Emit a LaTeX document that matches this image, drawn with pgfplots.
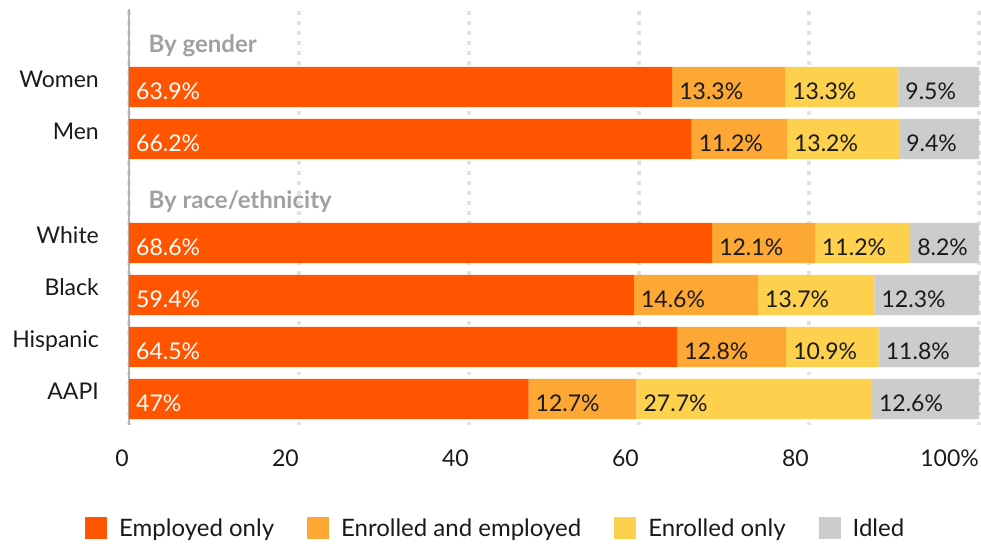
\documentclass[border=0pt]{standalone}
\usepackage{fontspec}
\setmainfont{Lato}
\usepackage{pgfplots}
\usepackage{pgfplotstable}
\pgfplotsset{compat=1.18}
\definecolor{cEmp}{HTML}{FF5500}
\definecolor{cEE}{HTML}{FDA834}
\definecolor{cEO}{HTML}{FDD04E}
\definecolor{cIdl}{HTML}{CCCCCC}
\definecolor{cHead}{HTML}{A0A0A0}
\definecolor{cGrid}{HTML}{E2E2E2}
\definecolor{cAxis}{HTML}{B4B4B4}
\definecolor{cText}{HTML}{1A1A1A}
\newcommand\fs{\fontsize{23bp}{27bp}\selectfont}
\newcommand\fh{\fontsize{24bp}{28bp}\selectfont}

\pgfplotstableread{
y emp ee eo idl
6 63.9 13.3 13.3 9.5
5 66.2 11.2 13.2 9.4
3 68.6 12.1 11.2 8.2
2 59.4 14.6 13.7 12.3
1 64.5 12.8 10.9 11.8
0 47 12.7 27.7 12.6
}\data
\pgfplotstablecreatecol[create col/expr={\thisrow{emp}}]{s2}\data
\pgfplotstablecreatecol[create col/expr={\thisrow{emp}+\thisrow{ee}}]{s3}\data
\pgfplotstablecreatecol[create col/expr={\thisrow{emp}+\thisrow{ee}+\thisrow{eo}}]{s4}\data

\pgfplotsset{
  common/.style={width=850bp, height=416bp, scale only axis,
    xmin=0, xmax=100, ymin=-0.5, ymax=7.5},
  lg/.style={legend image code/.code={\fill[##1] (0bp,-11bp) rectangle (22bp,11bp);}},
  lab/.style={draw=none, mark=none, nodes near coords={\pgfplotspointmeta\%},
    point meta=explicit symbolic,
    every node near coord/.append style={anchor=base west, inner sep=0pt,
      xshift=7bp, yshift=-12bp, font=\fs, text=#1}},
}

\begin{document}
\begin{tikzpicture}
\useasboundingbox (-129bp,-120bp) rectangle (852bp,425bp);
\begin{axis}[common, xbar stacked, bar width=0.77,
  axis lines*=left,
  x axis line style={draw=none},
  y axis line style={draw=cAxis, line width=2bp, -},
  xtick={0,20,40,60,80,100}, xticklabels={0,20,40,60,80,100\%},
  ytick={6,5,3,2,1,0}, yticklabels={Women,Men,White,Black,Hispanic,AAPI},
  major tick length=0pt,
  xmajorgrids,
  major x grid style={cGrid, line width=3.5bp, dash pattern=on 3.5bp off 6.5bp},
  tick label style={font=\fs, text=cText, inner sep=0pt},
  xticklabel style={anchor=base east, yshift=-41bp},
  yticklabel style={anchor=base east, xshift=-30bp},
  /pgf/number format/assume math mode=true,
  legend columns=4,
  legend style={at={(-0.0518,-0.2476)}, anchor=west, draw=none, inner sep=0pt,
    font=\fh, text=cText, nodes={inner sep=0pt},
    /tikz/every odd column/.append style={column sep=12bp},
    /tikz/every even column/.append style={column sep=33bp}},
]
\addplot[fill=cEmp, draw=none, lg] table[x=emp, y=y] {\data};
\addplot[fill=cEE, draw=none, lg] table[x=ee, y=y] {\data};
\addplot[fill=cEO, draw=none, lg] table[x=eo, y=y] {\data};
\addplot[fill=cIdl, draw=none, lg] table[x=idl, y=y] {\data};
\legend{Employed only, Enrolled and employed, Enrolled only, Idled}
\end{axis}
\begin{axis}[common, hide axis, clip=false]
\addplot[lab=white] table[x expr=0, y=y, meta=emp] {\data};
\addplot[lab=cText] table[x=s2, y=y, meta=ee] {\data};
\addplot[lab=cText] table[x=s3, y=y, meta=eo] {\data};
\addplot[lab=cText] table[x=s4, y=y, meta=idl] {\data};
\node[anchor=base west, xshift=16bp, yshift=-17bp, font=\fh\bfseries, text=cHead]
  at (axis cs:0,7) {By gender};
\node[anchor=base west, xshift=16bp, yshift=-17bp, font=\fh\bfseries, text=cHead]
  at (axis cs:0,4) {By race/ethnicity};
\end{axis}
\end{tikzpicture}
\end{document}
